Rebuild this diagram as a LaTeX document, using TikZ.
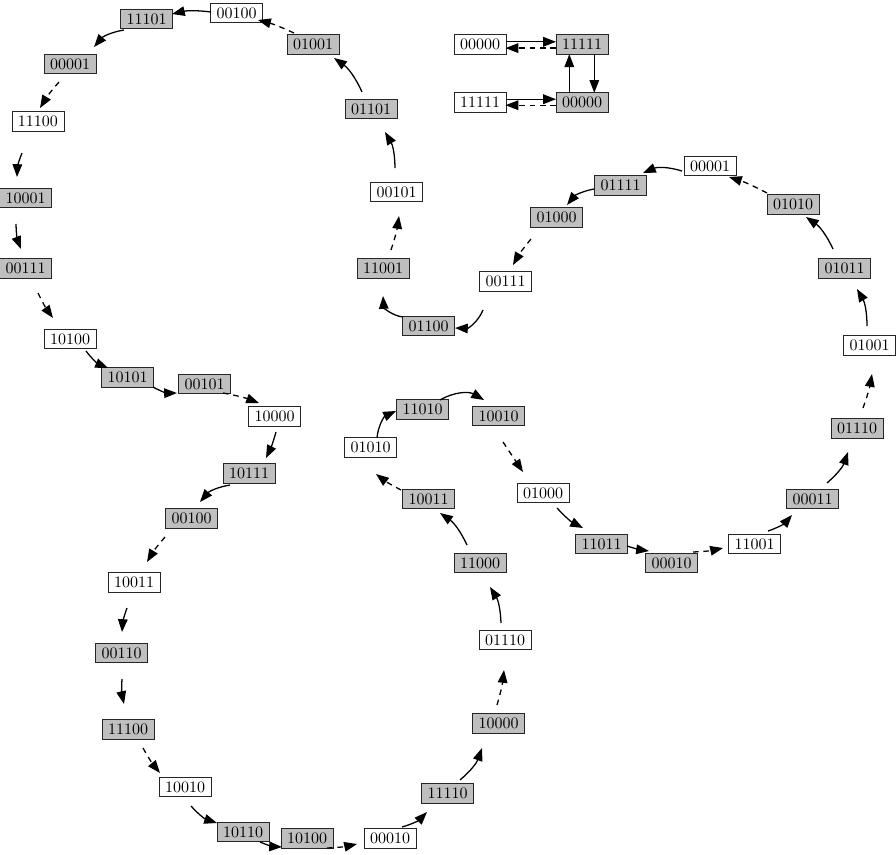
\documentclass[tikz,border=0pt]{standalone}
\usetikzlibrary{arrows.meta}
\tikzset{
  box/.style={draw=black!85, line width=0.6pt, minimum width=32.5pt, minimum height=12.2pt, inner sep=0pt, font=\fontsize{10}{12}\selectfont},
  wbox/.style={box, fill=white},
  gbox/.style={box, fill=black!25},
  sol/.style={line width=0.8pt, -{Triangle[length=8pt,width=6pt]}},
  dsh/.style={sol, dash pattern=on 3.5pt off 3pt},
}
\begin{document}
\begin{tikzpicture}[x=0.625pt, y=-0.625pt]
\useasboundingbox (0,0) rectangle (896,854);
% main cycle
\node[wbox] (n1) at (236.5,13) {00100};
\node[gbox] (n2) at (146.5,19) {11101};
\node[gbox] (n3) at (70,64) {00001};
\node[wbox] (n4) at (38,121.5) {11100};
\node[gbox] (n5) at (25.5,198) {10001};
\node[gbox] (n6) at (25.5,268.5) {00111};
\node[wbox] (n7) at (70,339) {10100};
\node[gbox] (n8) at (127.5,377.5) {10101};
\node[gbox] (n9) at (204.5,384) {00101};
\node[wbox] (n10) at (274.5,416.5) {10000};
\node[gbox] (n11) at (249,473.5) {10111};
\node[gbox] (n12) at (191.5,518.5) {00100};
\node[wbox] (n13) at (134,582.5) {10011};
\node[gbox] (n14) at (121.5,653) {00110};
\node[gbox] (n15) at (128,729.5) {11100};
\node[wbox] (n16) at (185,787) {10010};
\node[gbox] (n17) at (243,832) {10110};
\node[gbox] (n18) at (307,838.5) {10100};
\node[wbox] (n19) at (390,838.5) {00010};
\node[gbox] (n20) at (447.5,793.5) {11110};
\node[gbox] (n21) at (498.5,723.5) {10000};
\node[wbox] (n22) at (505,640) {01110};
\node[gbox] (n23) at (480,563) {11000};
\node[gbox] (n24) at (428.5,499) {10011};
\node[wbox] (n25) at (370.5,447.5) {01010};
\node[gbox] (n26) at (422.5,409.5) {11010};
\node[gbox] (n27) at (498.5,416) {10010};
\node[wbox] (n28) at (543,493) {01000};
\node[gbox] (n29) at (601.5,544) {11011};
\node[gbox] (n30) at (671.5,563) {00010};
\node[wbox] (n31) at (754.5,544) {11001};
\node[gbox] (n32) at (812.5,499) {00011};
\node[gbox] (n33) at (857,428.5) {01110};
\node[wbox] (n34) at (869.5,345.5) {01001};
\node[gbox] (n35) at (844.5,268.5) {01011};
\node[gbox] (n36) at (793,204.5) {01010};
\node[wbox] (n37) at (710,166) {00001};
\node[gbox] (n38) at (620.5,185.5) {01111};
\node[gbox] (n39) at (556.5,217.5) {01000};
\node[wbox] (n40) at (505.5,281.5) {00111};
\node[gbox] (n41) at (428.5,326) {01100};
\node[gbox] (n42) at (383,268.5) {11001};
\node[wbox] (n43) at (396.5,192) {00101};
\node[gbox] (n44) at (371,109) {01101};
\node[gbox] (n45) at (313,44.5) {01001};
% small component
\node[wbox] (s1) at (480,44.5) {00000};
\node[gbox] (s2) at (582,44.5) {11111};
\node[wbox] (s3) at (480,102.5) {11111};
\node[gbox] (s4) at (582,102.5) {00000};

% edges of main cycle
\draw[sol] ([shift={(-25.5,-1)}]n1.center) to[bend right=10] ([shift={(25.5,-5)}]n2.center);
\draw[sol] ([shift={(-22.5,11)}]n2.center) to[bend right=20] ([shift={(24,-17)}]n3.center);
\draw[dsh] ([shift={(-11,18)}]n3.center) to[bend right=5] ([shift={(2,-13.5)}]n4.center);
\draw[sol] ([shift={(-16,31.5)}]n4.center) to[bend right=10] ([shift={(-8.5,-21)}]n5.center);
\draw[sol] ([shift={(-9.5,26)}]n5.center) to[bend right=10] ([shift={(-4.5,-19.5)}]n6.center);
\draw[dsh] ([shift={(12.5,24.5)}]n6.center) to[bend right=5] ([shift={(-17,-21)}]n7.center);
\draw[sol] ([shift={(16,12)}]n7.center) to[bend right=15] ([shift={(-19.5,-9.5)}]n8.center);
\draw[sol] ([shift={(25.5,9.5)}]n8.center) to[bend right=15] ([shift={(-27.5,9)}]n9.center);
\draw[dsh] ([shift={(18.5,9)}]n9.center) to[bend left=5] ([shift={(-15.5,-13.5)}]n10.center);
\draw[sol] ([shift={(1.5,15.5)}]n10.center) to[bend left=5] ([shift={(17,-15.5)}]n11.center);
\draw[sol] ([shift={(-19,11.5)}]n11.center) to[bend right=20] ([shift={(8.5,-16.5)}]n12.center);
\draw[dsh] ([shift={(-26.5,18.5)}]n12.center) to[bend right=5] ([shift={(13,-20.5)}]n13.center);
\draw[sol] ([shift={(-7,25.5)}]n13.center) to[bend right=8] ([shift={(0.5,-21)}]n14.center);
\draw[sol] ([shift={(0.5,26)}]n14.center) to[bend right=8] ([shift={(-4,-25.5)}]n15.center);
\draw[dsh] ([shift={(15,18.5)}]n15.center) to[bend right=5] ([shift={(-25,-14)}]n16.center);
\draw[sol] ([shift={(6,19)}]n16.center) to[bend right=15] ([shift={(-26,-9)}]n17.center);
\draw[sol] ([shift={(17,10)}]n17.center) to[bend right=10] ([shift={(-25,8.5)}]n18.center);
\draw[dsh] ([shift={(20,9.5)}]n18.center) to[bend right=5] ([shift={(-33,5.5)}]n19.center);
\draw[sol] ([shift={(12,-11.5)}]n19.center) to[bend right=15] ([shift={(-20.5,18.5)}]n20.center);
\draw[sol] ([shift={(12.5,-13.5)}]n20.center) to[bend right=15] ([shift={(-16.5,24.5)}]n21.center);
\draw[dsh] ([shift={(-1.5,-18.5)}]n21.center) to[bend right=5] ([shift={(-1,30)}]n22.center);
\draw[sol] ([shift={(-4,-17)}]n22.center) to[bend right=15] ([shift={(10,24)}]n23.center);
\draw[sol] ([shift={(-13,-18)}]n23.center) to[bend right=15] ([shift={(11.5,14)}]n24.center);
\draw[dsh] ([shift={(-27.5,-9)}]n24.center) to[bend left=5] ([shift={(5.5,26.5)}]n25.center);
\draw[sol] ([shift={(6.5,-9.5)}]n25.center) to[bend left=30] ([shift={(-26.5,1.5)}]n26.center);
\draw[sol] ([shift={(17.5,-9.5)}]n26.center) to[bend left=30] ([shift={(-14.5,-16)}]n27.center);
\draw[dsh] ([shift={(4.5,26)}]n27.center) to ([shift={(-20,-21)}]n28.center);
\draw[sol] ([shift={(14,15)}]n28.center) to[bend right=10] ([shift={(-18.5,-16)}]n29.center);
\draw[sol] ([shift={(25.5,2)}]n29.center) to[bend right=5] ([shift={(-22.5,-12)}]n30.center);
\draw[dsh] ([shift={(21.5,-11)}]n30.center) to[bend right=5] ([shift={(-31.5,4)}]n31.center);
\draw[sol] ([shift={(13.5,-13)}]n31.center) to[bend right=15] ([shift={(-20.5,16)}]n32.center);
\draw[sol] ([shift={(14.5,-16)}]n32.center) to[bend right=15] ([shift={(-9,23.5)}]n33.center);
\draw[dsh] ([shift={(6,-20.5)}]n33.center) to[bend right=5] ([shift={(2.5,28.5)}]n34.center);
\draw[sol] ([shift={(-2.5,-19.5)}]n34.center) to[bend right=15] ([shift={(12.5,20.5)}]n35.center);
\draw[sol] ([shift={(-11.5,-19.5)}]n35.center) to[bend right=15] ([shift={(13,12.5)}]n36.center);
\draw[dsh] ([shift={(-26,-11.5)}]n36.center) to[bend right=5] ([shift={(19,11)}]n37.center);
\draw[sol] ([shift={(-28,5)}]n37.center) to[bend right=20] ([shift={(22.5,-12.5)}]n38.center);
\draw[sol] ([shift={(-26.5,3.5)}]n38.center) to[bend right=20] ([shift={(10.5,-12.5)}]n39.center);
\draw[dsh] ([shift={(-25.5,21.5)}]n39.center) to[bend right=5] ([shift={(7.5,-16.5)}]n40.center);
\draw[sol] ([shift={(-22.5,28.5)}]n40.center) to[bend left=35] ([shift={(26.5,2)}]n41.center);
\draw[sol] ([shift={(-25.5,-9)}]n41.center) to[bend left=40] ([shift={(0,27.5)}]n42.center);
\draw[dsh] ([shift={(8,-18.5)}]n42.center) to[bend right=5] ([shift={(2.5,24)}]n43.center);
\draw[sol] ([shift={(-1.5,-24)}]n43.center) to[bend right=15] ([shift={(14,23)}]n44.center);
\draw[sol] ([shift={(-9,-17)}]n44.center) to[bend right=15] ([shift={(21,13.5)}]n45.center);
\draw[dsh] ([shift={(-19,-11.5)}]n45.center) to[bend right=5] ([shift={(21.5,7)}]n1.center);

% edges of small component
\draw[sol] ([shift={(25.5,-2.7)}]s1.center) -- ([shift={(-26,-2.7)}]s2.center);
\draw[dsh] ([shift={(-26,3.6)}]s2.center) -- ([shift={(25.5,3.6)}]s1.center);
\draw[sol] ([shift={(25.5,-3.3)}]s3.center) -- ([shift={(-26,-3.3)}]s4.center);
\draw[dsh] ([shift={(-26,2.7)}]s4.center) -- ([shift={(25.5,2.7)}]s3.center);
\draw[sol] ([shift={(-12.7,-9.7)}]s4.center) -- ([shift={(-12.7,9.7)}]s2.center);
\draw[sol] ([shift={(12.3,9.7)}]s2.center) -- ([shift={(12.3,-9.7)}]s4.center);
\end{tikzpicture}
\end{document}
